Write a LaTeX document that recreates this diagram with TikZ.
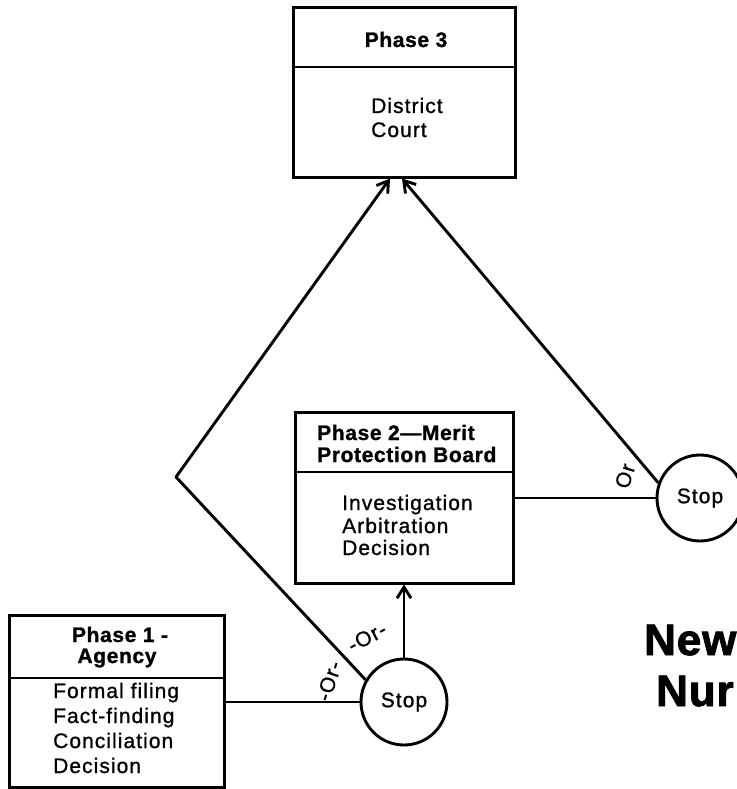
\documentclass[tikz,border=0pt]{standalone}
\usepackage{fontspec}
\setmainfont{Liberation Sans}
\newfontfamily\plainfont[LetterSpace=5, FakeBold=1]{Liberation Sans}
\newfontfamily\headfamily[LetterSpace=3, BoldFeatures={FakeBold=1.2}]{Liberation Sans}
\newfontfamily\titlefamily[LetterSpace=2, BoldFeatures={FakeBold=2}]{Liberation Sans}
\usetikzlibrary{arrows.meta}

\newcommand\bodysize{\fontsize{21}{24}\selectfont}

\tikzset{
  ln/.style={line width=2.9pt, line join=round},
  box/.style={draw, line width=3pt, rectangle, inner sep=0pt},
  headtxt/.style={font=\headfamily\bfseries\bodysize, inner sep=0pt, anchor=base},
  headleft/.style={headtxt, anchor=base west},
  bodytxt/.style={font=\plainfont\bodysize, inner sep=0pt, anchor=base west},
  stopc/.style={draw, circle, line width=2.9pt, minimum size=86pt, inner sep=0pt, font=\plainfont\bodysize},
  orlab/.style={font=\plainfont\fontsize{21}{23}\selectfont, inner sep=0pt},
  tip/.style={-{Straight Barb[length=11pt,width=14pt]}},
  bigtxt/.style={font=\titlefamily\bfseries\fontsize{44}{48}\selectfont, inner sep=0pt, anchor=base west}
}

\begin{document}
\begin{tikzpicture}[x=1pt, y=-1pt]
  \useasboundingbox (0,0) rectangle (736,789);

  % Phase 3 box
  \node[box, minimum width=222pt, minimum height=169pt] (p3) at (404,92.5) {};
  \draw[ln] (p3.west |- 0,67) -- (p3.east |- 0,67);
  \node[headtxt] (p3h) at (406,47) {Phase 3};
  \node[bodytxt] (p3a) at (371,113) {District};
  \node[bodytxt] (p3b) at (371,137) {Court};

  % Phase 2 box
  \node[box, minimum width=218pt, minimum height=171pt] (p2) at (404,497.5) {};
  \draw[ln] (p2.west |- 0,472) -- (p2.east |- 0,472);
  \node[headleft] (p2h1) at (317,440) {Phase 2—Merit};
  \node[headleft] (p2h2) at (317,462) {Protection Board};
  \node[bodytxt] (p2a) at (342,510) {Investigation};
  \node[bodytxt] (p2b) at (342,533) {Arbitration};
  \node[bodytxt] (p2c) at (342,555) {Decision};

  % Phase 1 box
  \node[box, minimum width=215pt, minimum height=172pt] (p1) at (116.5,701) {};
  \draw[ln] (p1.west |- 0,678) -- (p1.east |- 0,678);
  \node[headtxt] (p1h1) at (120,642) {Phase 1 -};
  \node[headtxt] (p1h2) at (117,663) {Agency};
  \node[bodytxt] (p1a) at (53,698) {Formal filing};
  \node[bodytxt] (p1b) at (53,723) {Fact-finding};
  \node[bodytxt] (p1c) at (53,748) {Conciliation};
  \node[bodytxt] (p1d) at (53,773) {Decision};

  % Stop circles
  \node[stopc] (s1) at (404,702) {Stop};
  \node[stopc] (s2) at (700,498) {Stop};

  % Bend of the long path to the court
  \coordinate (bend) at (176,477);

  % Connectors
  \draw[ln] (s1.west -| p1.east) -- (s1.west);
  \draw[ln, tip] (s1.north) -- (s1.north |- p2.south);
  \draw[ln, tip] (s1.150) -- (bend) -- (p3.south -| 390,0);
  \draw[ln] (p2.east |- s2.west) -- (s2.west);
  \draw[ln, tip] (s2.160) -- (p3.south -| 402,0);

  % Or labels
  \node[orlab, rotate=72] (or1) at (329,681) {-Or-};
  \node[orlab, rotate=28] (or2) at (367,637) {-Or-};
  \node[orlab, rotate=73] (or3) at (625,476) {Or};

  % Title fragment at the right edge
  \node[bigtxt] (t1) at (644,655) {New};
  \node[bigtxt] (t2) at (656,706) {Nur};
\end{tikzpicture}
\end{document}
